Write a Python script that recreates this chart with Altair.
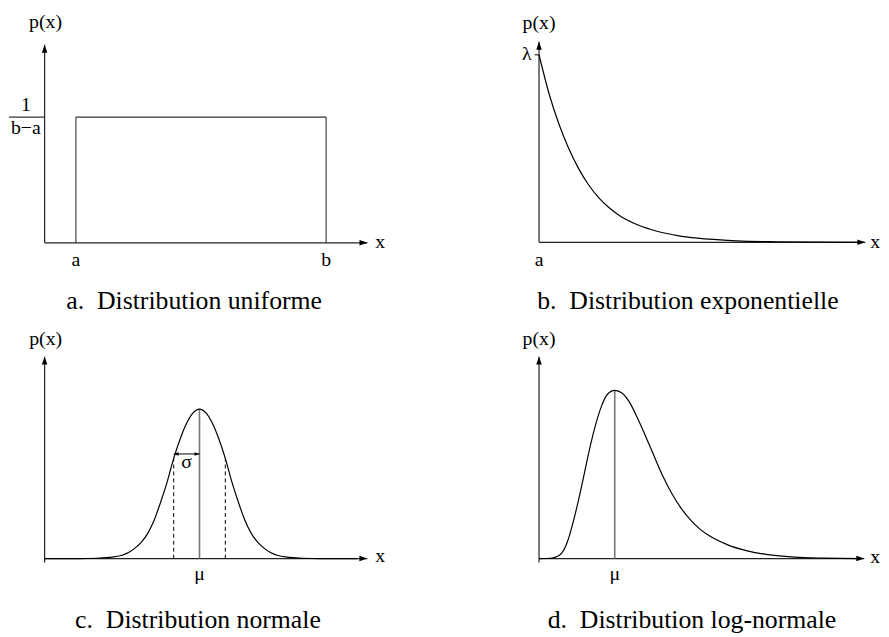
import altair as alt
import pandas as pd

# ---------------- data ----------------
# a. uniform
uni_a, uni_b, uni_h = 1.0, 9.0, 1.0
# b. exponential (lambda = 1)
exp_x = [0, 0.25, 0.5, 0.75, 1.0, 1.25, 1.5, 1.75, 2.0, 2.5, 3.0, 3.5, 4.0, 5.0, 6.0, 7.0, 8.2]
exp_y = [1.0, 0.795, 0.632, 0.50, 0.393, 0.307, 0.24, 0.188, 0.147, 0.092, 0.058, 0.036, 0.022, 0.008, 0.003, 0.001, 0.0]
# c. normal (mu = 6, sigma = 1)
norm_mu, norm_sigma, norm_dash_h, norm_arrow_y = 6.0, 1.0, 0.67, 0.70
norm_x = [0, 1.3, 2.0, 2.5, 3.0, 3.25, 3.5, 3.75, 4.0, 4.25, 4.5, 4.75, 5.0, 5.25, 5.5, 5.75, 6.0,
          6.25, 6.5, 6.75, 7.0, 7.25, 7.5, 7.75, 8.0, 8.25, 8.5, 8.75, 9.0, 9.5, 10.0, 10.7, 12.1]
norm_y = [0, 0, 0.002, 0.008, 0.022, 0.04, 0.07, 0.11, 0.17, 0.26, 0.38, 0.515, 0.67, 0.80, 0.905, 0.975, 1.0,
          0.975, 0.905, 0.80, 0.67, 0.515, 0.38, 0.26, 0.17, 0.11, 0.07, 0.04, 0.022, 0.008, 0.002, 0, 0]
# d. log-normal (mode mu = 2)
logn_mu = 2.0
logn_x = [0, 0.3, 0.45, 0.6, 0.75, 0.9, 1.05, 1.2, 1.35, 1.5, 1.65, 1.8, 2.0, 2.2, 2.4, 2.6, 2.8, 3.0,
          3.25, 3.5, 3.75, 4.0, 4.25, 4.5, 5.0, 5.5, 6.0, 6.5, 7.0, 7.5, 8.5]
logn_y = [0, 0.002, 0.01, 0.032, 0.10, 0.215, 0.355, 0.51, 0.665, 0.80, 0.906, 0.975, 1.0, 0.982, 0.925,
          0.835, 0.735, 0.63, 0.50, 0.39, 0.30, 0.23, 0.175, 0.135, 0.08, 0.046, 0.025, 0.013, 0.006, 0.003, 0]

NB = "\u00a0"
titles = ["a." + NB + NB + "Distribution uniforme", "b." + NB + NB + "Distribution exponentielle",
          "c." + NB + NB + "Distribution normale", "d." + NB + NB + "Distribution log-normale"]

FONT = "Liberation Serif"
AXC = "#222222"
UP = "M0,0L-0.35,1L0.35,1Z"
RIGHT = "M0,0L-1,-0.35L-1,0.35Z"
LEFT = "M0,0L1,-0.35L1,0.35Z"


def scales(W, H, x0, y0, sx, sy):
    xs = alt.Scale(domain=[-x0 / sx, (W - x0) / sx], nice=False, zero=False)
    ys = alt.Scale(domain=[(y0 - H) / sy, y0 / sy], nice=False, zero=False)
    return xs, ys


def enc_xy(xs, ys):
    return dict(x=alt.X("x:Q", scale=xs, axis=None), y=alt.Y("y:Q", scale=ys, axis=None))


def seg_layer(segs, xs, ys, color=AXC, width=1.2, dash=None):
    df = pd.DataFrame(segs, columns=["x", "y", "x2", "y2"])
    kw = dict(color=color, strokeWidth=width)
    if dash:
        kw["strokeDash"] = dash
    return alt.Chart(df).mark_rule(**kw).encode(x2="x2:Q", y2="y2:Q", **enc_xy(xs, ys))


def curve_layer(xv, yv, xs, ys):
    df = pd.DataFrame({"x": xv, "y": yv, "i": list(range(len(xv)))})
    return alt.Chart(df).mark_line(color="black", strokeWidth=1.2, interpolate="monotone").encode(
        order="i:Q", **enc_xy(xs, ys))


def arrow_layer(pts, shape, size, xs, ys):
    df = pd.DataFrame(pts, columns=["x", "y"])
    return alt.Chart(df).mark_point(shape=shape, size=size, filled=True, color="black",
                                    opacity=1, strokeWidth=0).encode(**enc_xy(xs, ys))


def text_layer(items, size, xs, ys):
    df = pd.DataFrame(items, columns=["x", "y", "text"])
    return alt.Chart(df).mark_text(font=FONT, fontSize=size, align="center",
                                   baseline="alphabetic", color="black").encode(text="text:N", **enc_xy(xs, ys))


LS, TS = 20, 26

# ---------------- panel a ----------------
W, H = 436, 310
xs, ys = scales(W, H, 36, 232, 31.6, 127)
pa = alt.layer(
    seg_layer([[0, 0, 10.32, 0], [0, 0, 0, 1.575]], xs, ys),
    seg_layer([[uni_a, 0, uni_a, uni_h], [uni_a, uni_h, uni_b, uni_h], [uni_b, uni_h, uni_b, 0],
               [-1.139, uni_h, 0, uni_h]], xs, ys, color="#333333", width=1.1),
    arrow_layer([[0, 1.575]], UP, 256, xs, ys),
    arrow_layer([[10.32, 0]], RIGHT, 256, xs, ys),
    text_layer([[-0.60, 1.047, "1"], [-0.60, 0.866, "b\u2212a"], [0.03, 1.709, "p(x)"],
                [uni_a, -0.181, "a"], [uni_b, -0.181, "b"], [10.73, -0.039, "x"]], LS, xs, ys),
    text_layer([[4.78, -0.528, titles[0]]], TS, xs, ys),
).properties(width=W, height=H)

# ---------------- panel b ----------------
W, H = 444, 310
xs, ys = scales(W, H, 99.5, 231.5, 40, 189.5)
pb = alt.layer(
    seg_layer([[0, 0, 8.24, 0], [0, 0, 0, 1.069], [-0.11, 1.0, 0, 1.0]], xs, ys),
    curve_layer(exp_x, exp_y, xs, ys),
    arrow_layer([[0, 1.069]], UP, 256, xs, ys),
    arrow_layer([[8.24, 0]], RIGHT, 256, xs, ys),
    text_layer([[-0.31, 0.974, "\u03bb"], [0, 1.137, "p(x)"], [0, -0.124, "a"],
                [8.49, -0.029, "x"]], LS, xs, ys),
    text_layer([[3.76, -0.356, titles[1]]], TS, xs, ys),
).properties(width=W, height=H)

# ---------------- panel c ----------------
W, H = 436, 318
xs, ys = scales(W, H, 36, 241, 26.08, 151)
lo, hi = norm_mu - norm_sigma, norm_mu + norm_sigma
pc = alt.layer(
    seg_layer([[0, 0, 12.5, 0], [0, -0.026, 0, 1.351]], xs, ys),
    seg_layer([[norm_mu, 0, norm_mu, 1.0]], xs, ys, color="#777777", width=1.6),
    seg_layer([[lo, 0, lo, norm_dash_h], [hi, 0, hi, norm_dash_h]], xs, ys, color="black", width=1, dash=[4, 3]),
    seg_layer([[lo, norm_arrow_y, norm_mu, norm_arrow_y]], xs, ys, color="black", width=1),
    curve_layer(norm_x, norm_y, xs, ys),
    arrow_layer([[0, 1.351]], UP, 256, xs, ys),
    arrow_layer([[12.5, 0]], RIGHT, 256, xs, ys),
    arrow_layer([[lo, norm_arrow_y]], LEFT, 100, xs, ys),
    arrow_layer([[norm_mu, norm_arrow_y]], RIGHT, 100, xs, ys),
    text_layer([[0.04, 1.430, "p(x)"], [5.5, 0.609, "\u03c3"], [norm_mu, -0.146, "\u03bc"],
                [13.0, -0.026, "x"]], LS, xs, ys),
    text_layer([[5.94, -0.464, titles[2]]], TS, xs, ys),
).properties(width=W, height=H)

# ---------------- panel d ----------------
W, H = 444, 318
xs, ys = scales(W, H, 99.5, 241, 38.25, 170)
pd_ = alt.layer(
    seg_layer([[0, 0, 8.59, 0], [0, -0.024, 0, 1.2]], xs, ys),
    seg_layer([[logn_mu, 0, logn_mu, 1.0]], xs, ys, color="#777777", width=1.6),
    curve_layer(logn_x, logn_y, xs, ys),
    arrow_layer([[0, 1.2]], UP, 256, xs, ys),
    arrow_layer([[8.59, 0]], RIGHT, 256, xs, ys),
    text_layer([[0, 1.271, "p(x)"], [logn_mu, -0.129, "\u03bc"], [8.88, -0.024, "x"]], LS, xs, ys),
    text_layer([[4.04, -0.412, titles[3]]], TS, xs, ys),
).properties(width=W, height=H)

chart = alt.concat(pa, pb, pc, pd_, columns=2, spacing=0, bounds="flush").properties(
    padding=0
).configure_view(stroke=None)

chart.save("out.html", embed_options={"renderer": "svg", "actions": False})
